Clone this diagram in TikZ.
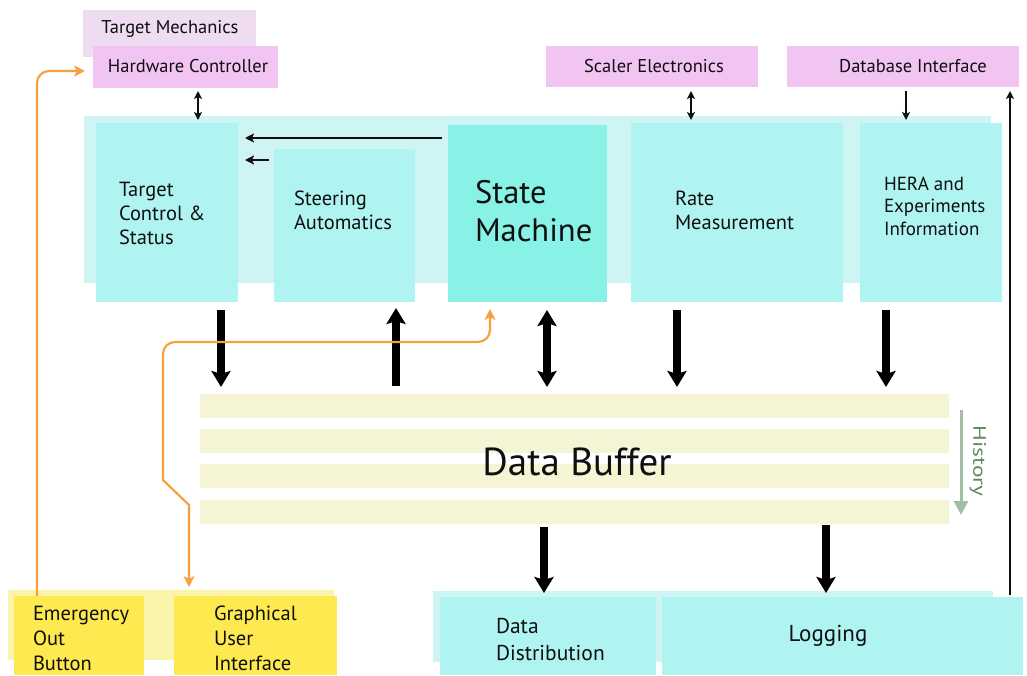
\documentclass[tikz,border=0pt]{standalone}
\usepackage{fontspec}
\setmainfont{PT Sans}
\usetikzlibrary{arrows.meta}
\definecolor{cbg}{RGB}{206,245,243}
\definecolor{cbox}{RGB}{176,244,242}
\definecolor{cstate}{RGB}{136,242,230}
\definecolor{pinkA}{RGB}{240,220,240}
\definecolor{pinkB}{RGB}{242,196,242}
\definecolor{yelA}{RGB}{250,244,170}
\definecolor{yelB}{RGB}{255,233,80}
\definecolor{stripe}{RGB}{245,245,214}
\definecolor{orng}{RGB}{247,160,64}
\definecolor{histA}{RGB}{163,191,163}
\definecolor{histT}{RGB}{94,138,99}
\definecolor{ink}{RGB}{15,15,15}
\tikzset{
  blk/.style={inner sep=0pt,outer sep=0pt,draw=none},
  lbl/.style={inner sep=0pt,outer sep=0pt,text=ink,align=left,anchor=west,font=\fontsize{20.5}{24}\selectfont},
  lblc/.style={inner sep=0pt,outer sep=0pt,text=ink,align=center,font=\fontsize{18.5}{20}\selectfont},
  thin/.style={line width=1.6pt,draw=ink},
  thinhead/.style={-{Stealth[width=8pt,length=8pt,inset=2pt]}},
  thinboth/.style={{Stealth[width=8pt,length=8pt,inset=2pt]}-{Stealth[width=8pt,length=8pt,inset=2pt]}},
  big/.style={line width=8pt,draw=black},
  bighead/.style={-{Stealth[width=19pt,length=16pt,inset=3pt]}},
  bigboth/.style={{Stealth[width=19pt,length=16pt,inset=3pt]}-{Stealth[width=19pt,length=16pt,inset=3pt]}},
  oline/.style={line width=2.2pt,draw=orng},
}
\begin{document}
\begin{tikzpicture}[x=1pt,y=-1pt]
\useasboundingbox (0,0) rectangle (1027,675);
% top external boxes
\node[blk,fill=pinkA,minimum width=173pt,minimum height=47pt] (tm) at (169.5,33.5) {};
\node[lblc] (tmt) at (170,29) {Target Mechanics};
\node[blk,fill=pinkB,minimum width=185pt,minimum height=42pt] (hw) at (185.5,67) {};
\node[lblc] (hwt) at (188,66) {Hardware Controller};
\node[blk,fill=pinkB,minimum width=212pt,minimum height=41pt] (sc) at (652,66.5) {};
\node[lblc] (sct) at (654,66) {Scaler Electronics};
\node[blk,fill=pinkB,minimum width=232pt,minimum height=41pt] (db) at (903,66.5) {};
\node[lblc] (dbt) at (913,66) {Database Interface};
% top group
\node[blk,fill=cbg,minimum width=907pt,minimum height=167pt] (bgtop) at (537.5,199.5) {};
\node[blk,fill=cbox,minimum width=142pt,minimum height=179pt] (tc) at (167,212.5) {};
\node[blk,fill=cbox,minimum width=141pt,minimum height=153pt] (st) at (344.5,225.5) {};
\node[blk,fill=cstate,minimum width=159pt,minimum height=177pt] (sm) at (527.5,213.5) {};
\node[blk,fill=cbox,minimum width=212pt,minimum height=179pt] (rm) at (737,212.5) {};
\node[blk,fill=cbox,minimum width=142pt,minimum height=179pt] (he) at (931,212.5) {};
\node[lbl] (tct) at (119,213) {Target\\Control \&\\Status};
\node[lbl] (stt) at (294,210) {Steering\\Automatics};
\node[lbl,font=\fontsize{32.5}{38}\selectfont] (smt) at (475,211) {State\\Machine};
\node[lbl] (rmt) at (675,210) {Rate\\Measurement};
\node[lbl,font=\fontsize{19}{22.5}\selectfont] (het) at (884,206) {HERA and\\Experiments\\Information};
% data buffer
\node[blk,fill=stripe,minimum width=749pt,minimum height=24pt] (s1) at (574.5,406) {};
\node[blk,fill=stripe,minimum width=749pt,minimum height=24pt] (s2) at (574.5,441) {};
\node[blk,fill=stripe,minimum width=749pt,minimum height=24pt] (s3) at (574.5,476) {};
\node[blk,fill=stripe,minimum width=749pt,minimum height=24pt] (s4) at (574.5,512) {};
\node[inner sep=0pt,text=ink,font=\fontsize{39}{42}\selectfont] (dbuf) at (577,462) {Data Buffer};
\draw[line width=3pt,draw=histA,-{Triangle[width=14pt,length=14pt]}] ([xshift=12pt,yshift=31pt]s2.east) -- ([xshift=12pt,yshift=-3pt]s4.east);
\node[inner sep=0pt,text=histT,rotate=-90,font=\fontsize{18}{20}\selectfont] (hist) at (978,461) {\scalebox{1.3}[1]{History}};
% bottom boxes
\node[blk,fill=yelA,minimum width=326pt,minimum height=70pt] (ybg) at (171,625) {};
\node[blk,fill=yelB,minimum width=130pt,minimum height=79pt] (eo) at (79,635.5) {};
\node[blk,fill=yelB,minimum width=163pt,minimum height=79pt] (gu) at (255.5,635.5) {};
\node[lbl,font=\fontsize{20.5}{25}\selectfont] (eot) at (33,638) {Emergency\\Out\\Button};
\node[lbl,font=\fontsize{20.5}{25}\selectfont] (gut) at (214,638) {Graphical\\User\\Interface};
\node[blk,fill=cbg,minimum width=560pt,minimum height=71pt] (cbot) at (713,626.5) {};
\node[blk,fill=cbox,minimum width=216pt,minimum height=78pt] (dd) at (548,636) {};
\node[blk,fill=cbox,minimum width=361pt,minimum height=78pt] (lg) at (842.5,636) {};
\node[lbl,font=\fontsize{21.5}{27}\selectfont] (ddt) at (496,639.5) {Data\\Distribution};
\node[inner sep=0pt,text=ink,font=\fontsize{23}{26}\selectfont] (lgt) at (828,636) {Logging};
% thin arrows
\draw[thin,thinboth] ([xshift=12.5pt,yshift=-3pt]hw.south) -- ([xshift=31pt,yshift=3pt]tc.north);
\draw[thin,thinboth] ([xshift=39pt,yshift=-4pt]sc.south) -- ([xshift=-46pt,yshift=3pt]rm.north);
\draw[thin,thinhead] ([xshift=3pt,yshift=-4pt]db.south) -- ([xshift=-25pt,yshift=3pt]he.north);
\draw[thin,thinhead] ([xshift=167.5pt,yshift=2pt]lg.north) -- ([xshift=107pt,yshift=-4pt]db.south);
\draw[line width=2.2pt,draw=ink,-{Stealth[width=9pt,length=9pt,inset=2pt]}] ([xshift=-6pt,yshift=-13pt]sm.north west) -- ([xshift=7pt,yshift=-15pt]tc.north east);
\draw[line width=2.2pt,draw=ink,-{Stealth[width=9pt,length=9pt,inset=2pt]}] ([xshift=-5pt,yshift=-11pt]st.north west) -- ([xshift=7pt,yshift=-37pt]tc.north east);
% thick arrows
\draw[big,bighead] ([xshift=54pt,yshift=-8pt]tc.south) -- ([xshift=-353.5pt,yshift=7pt]s1.north);
\draw[big,bighead] ([xshift=-178.5pt,yshift=8pt]s1.north) -- ([xshift=51.5pt,yshift=-6pt]st.south);
\draw[big,bigboth] ([xshift=19.5pt,yshift=-8pt]sm.south) -- ([xshift=-27.5pt,yshift=7pt]s1.north);
\draw[big,bighead] ([xshift=-60pt,yshift=-8pt]rm.south) -- ([xshift=102.5pt,yshift=7pt]s1.north);
\draw[big,bighead] ([xshift=-45pt,yshift=-8pt]he.south) -- ([xshift=311.5pt,yshift=7pt]s1.north);
\draw[big,bighead] ([xshift=-30.5pt,yshift=-3pt]s4.south) -- ([xshift=-4pt,yshift=4pt]dd.north);
\draw[big,bighead] ([xshift=251.5pt,yshift=-1pt]s4.south) -- ([xshift=-16.5pt,yshift=4pt]lg.north);
% orange connectors
\draw[oline,rounded corners=12pt,-{Stealth[width=11pt,length=11pt,inset=3pt]}] ([xshift=-42pt]eo.north) |- ([xshift=-8pt,yshift=-4pt]hw.west);
\draw[oline,{Stealth[width=11pt,length=11pt,inset=3pt]}-{Stealth[width=11pt,length=11pt,inset=3pt]}] ([xshift=-66.5pt,yshift=9pt]gu.north) -- ++(0,-82) -- ++(-26,-25) -- ++(0,-10) [rounded corners=12pt] -- ++(0,-128) -- ++(327,0) -- ([xshift=-37.5pt,yshift=-7pt]sm.south);
\end{tikzpicture}
\end{document}
